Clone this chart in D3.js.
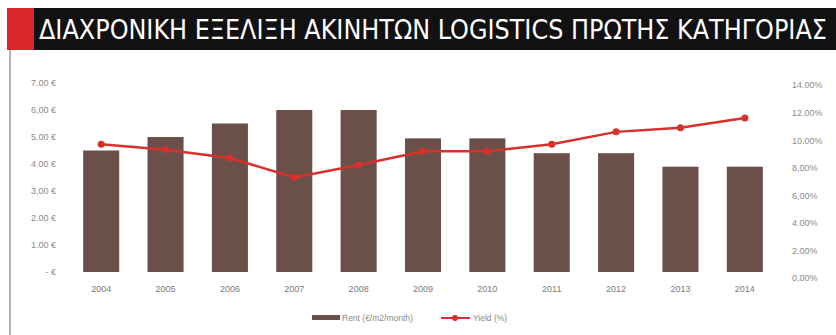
<!DOCTYPE html>
<html><head><meta charset="utf-8">
<script src="https://cdn.jsdelivr.net/npm/d3@7"></script>
<style>body{margin:0;background:#fff;}svg{display:block;}</style>
</head><body>
<script>
const years = ["2004","2005","2006","2007","2008","2009","2010","2011","2012","2013","2014"];
const rent = [4.5, 5.0, 5.5, 6.0, 6.0, 4.95, 4.95, 4.4, 4.4, 3.9, 3.9];
const yieldPct = [9.7, 9.3, 8.7, 7.3, 8.2, 9.2, 9.2, 9.7, 10.6, 10.9, 11.6];
const leftTicks = [0,1,2,3,4,5,6,7];
const rightTicks = [0,2,4,6,8,10,12,14];
const title = "ΔΙΑΧΡΟΝΙΚΗ ΕΞΕΛΙΞΗ ΑΚΙΝΗΤΩΝ LOGISTICS ΠΡΩΤΗΣ ΚΑΤΗΓΟΡΙΑΣ";
const legendLabels = ["Rent (€/m2/month)", "Yield (%)"];

const W = 836, H = 335;
const svg = d3.select("body").append("svg").attr("width", W).attr("height", H);

// page border line
svg.append("line").attr("x1",10).attr("x2",10).attr("y1",50).attr("y2",H).attr("stroke","#9a9a9a").attr("stroke-width",1.5);

// title band
svg.append("rect").attr("x",7).attr("y",8).attr("width",27).attr("height",42).attr("fill","#d8262a");
svg.append("rect").attr("x",34).attr("y",8).attr("width",W-34).attr("height",42).attr("fill","#111");
const t = svg.append("text").attr("x",39).attr("y",39).attr("fill","#fff")
  .attr("font-family","'Liberation Sans Narrow', 'DejaVu Sans Condensed', sans-serif").attr("font-size",28)
  .text(title);
const natural = t.node().getComputedTextLength();
const targetW = 788;
if (natural > targetW) t.attr("font-size", 28 * targetW / natural);
else t.attr("textLength", targetW).attr("lengthAdjust","spacing");

const plotL = 69, plotR = 777, plotTop = 83, plotBottom = 272;
const x = d3.scaleBand().domain(years).range([plotL, plotR]).paddingInner(0.44).paddingOuter(0.22);
const yL = d3.scaleLinear().domain([0,7]).range([plotBottom, plotTop]);
const yR = d3.scaleLinear().domain([0,14]).range([plotBottom+6, plotTop+2]);

const tickFont = "'Liberation Sans', Arial, sans-serif";
const leftAxis = d3.axisLeft(yL).tickValues(leftTicks).tickSize(0).tickPadding(0)
  .tickFormat(d => (d===0 ? "-   €" : (d===6||d===3? d.toFixed(2).replace(".",","): d.toFixed(2)) + " €"));
const gL = svg.append("g").attr("transform","translate(56,0)").call(leftAxis);
gL.select(".domain").remove();
gL.selectAll("text").attr("font-family",tickFont).attr("font-size",9).attr("fill","#8a8a8a");

const rightAxis = d3.axisRight(yR).tickValues(rightTicks).tickSize(0).tickPadding(0)
  .tickFormat(d => d.toFixed(2).replace(".", d===0||d===6||d===8? ",":".") + "%");
const gR = svg.append("g").attr("transform","translate(792,0)").call(rightAxis);
gR.select(".domain").remove();
gR.selectAll("text").attr("font-family",tickFont).attr("font-size",9).attr("fill","#8a8a8a");

// bars
svg.append("g").selectAll("rect").data(years).join("rect")
  .attr("x", d => x(d)).attr("width", x.bandwidth())
  .attr("y", (d,i) => yL(rent[i])).attr("height", (d,i) => yL(0) - yL(rent[i]))
  .attr("fill", "#6a5049");

// x axis labels
const xAxis = d3.axisBottom(x).tickSize(0).tickPadding(0);
const gX = svg.append("g").attr("transform","translate(0,286)").call(xAxis);
gX.select(".domain").remove();
gX.selectAll("text").attr("font-family",tickFont).attr("font-size",9).attr("fill","#7a7a7a");

// yield line
const line = d3.line().x((d,i) => x(years[i]) + x.bandwidth()/2).y(d => yR(d));
svg.append("path").datum(yieldPct).attr("d", line).attr("fill","none").attr("stroke","#d8302c").attr("stroke-width",2.5);
svg.append("g").selectAll("circle").data(yieldPct).join("circle")
  .attr("cx",(d,i) => x(years[i]) + x.bandwidth()/2).attr("cy", d => yR(d)).attr("r",3.5).attr("fill","#d8302c");

// legend
const lg = svg.append("g");
lg.append("rect").attr("x",312).attr("y",315).attr("width",28).attr("height",5).attr("fill","#6a5049");
lg.append("text").attr("x",342).attr("y",321).text(legendLabels[0]);
lg.append("line").attr("x1",441).attr("x2",470).attr("y1",318).attr("y2",318).attr("stroke","#d8302c").attr("stroke-width",2);
lg.append("circle").attr("cx",455).attr("cy",318).attr("r",3).attr("fill","#d8302c");
lg.append("text").attr("x",473).attr("y",321).text(legendLabels[1]);
lg.selectAll("text").attr("font-family",tickFont).attr("font-size",8.5).attr("fill","#8a8a8a");
</script>
</body></html>
